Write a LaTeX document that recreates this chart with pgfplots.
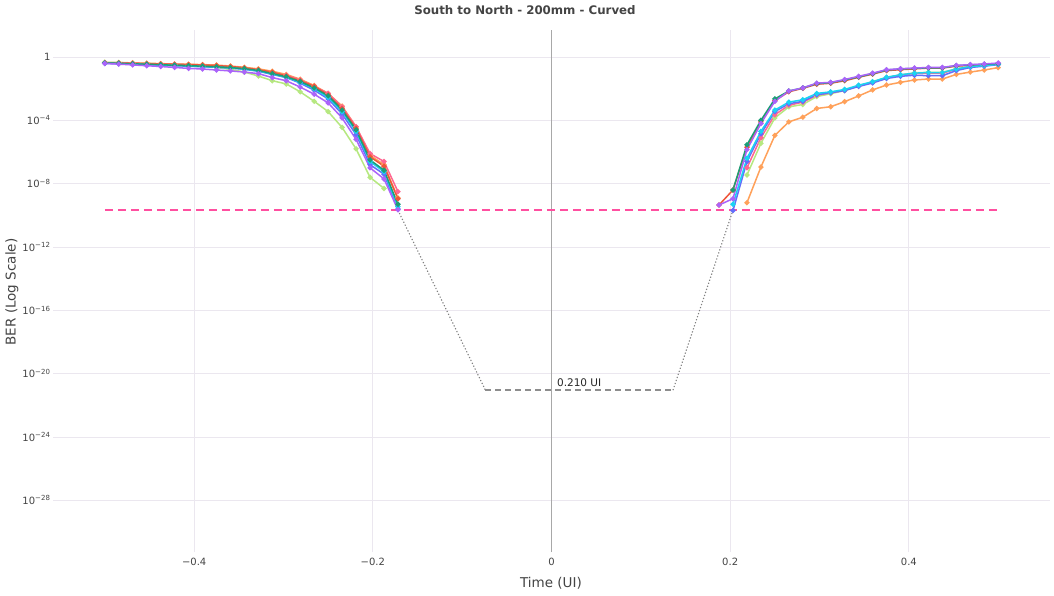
\documentclass[border=0pt]{standalone}
\usepackage{fontspec}
\setmainfont{DejaVu Sans}
\usepackage{pgfplots}
\pgfplotsset{compat=1.18}
\definecolor{cBlue}{HTML}{636EFA}
\definecolor{cRed}{HTML}{EF553B}
\definecolor{cTeal}{HTML}{1B9E77}
\definecolor{cPurple}{HTML}{AB63FA}
\definecolor{cOrange}{HTML}{FFA15A}
\definecolor{cCyan}{HTML}{19D3F3}
\definecolor{cPink}{HTML}{FF6692}
\definecolor{cLGreen}{HTML}{B6E880}
\definecolor{cThresh}{HTML}{FF4FA0}
\definecolor{gridc}{HTML}{EBE7EF}
\definecolor{cZero}{HTML}{A8A8A8}
\definecolor{c444}{HTML}{444444}
\definecolor{cGrey}{HTML}{808080}
\pgfplotsset{
  ser/.style={color=#1, line width=1.5pt, mark=*, mark size=1.8pt, mark options={solid, fill=#1}},
}
\begin{document}
\begin{tikzpicture}
\path[use as bounding box] (0,0) rectangle (1054pt,595pt);
\fill[white] (0,0) rectangle (1054pt,595pt);
\begin{axis}[
  at={(53pt,43pt)}, anchor=south west, scale only axis,
  width=997pt, height=522pt,
  xmin=-0.558, xmax=0.558,
  ymode=log, ymin=5.4e-32, ymax=50.8,
  axis line style={draw=none},
  major tick length=0pt, minor tick length=0pt,
  xtick={-0.4,-0.2,0.2,0.4},
  xticklabels={−0.4,−0.2,0.2,0.4},
  extra x ticks={0}, extra x tick labels={0},
  extra x tick style={major grid style={color=cZero, line width=0.9pt}},
  ytick={1,1e-4,1e-8,1e-12,1e-16,1e-20,1e-24,1e-28},
  yticklabels={1,10\textsuperscript{−4},10\textsuperscript{−8},10\textsuperscript{−12},10\textsuperscript{−16},10\textsuperscript{−20},10\textsuperscript{−24},10\textsuperscript{−28}},
  grid=major,
  major grid style={color=gridc, line width=0.9pt},
  tick label style={font=\fontsize{10}{12}\selectfont, text=c444},
  yticklabel style={xshift=1pt},
  xticklabel style={yshift=-3pt},
]
% light green
\addplot[ser=cLGreen] coordinates {(-0.5,0.468)(-0.4844,0.447)(-0.4688,0.427)(-0.4531,0.398)(-0.4375,0.363)(-0.4219,0.331)(-0.4063,0.302)(-0.3906,0.263)(-0.375,0.219)(-0.3594,0.166)(-0.3438,0.112)(-0.3281,0.0631)(-0.3125,0.0316)(-0.2969,0.02)(-0.2813,6.31e-3)(-0.2656,1.58e-3)(-0.25,3.55e-4)(-0.2344,3.55e-5)(-0.2188,1.58e-6)(-0.2031,2.51e-8)(-0.1875,5.01e-9)};
\addplot[ser=cLGreen] coordinates {(0.2188,3.55e-8)(0.2344,3.55e-6)(0.25,1.41e-4)(0.2656,7.08e-4)(0.2813,1e-3)(0.2969,3.16e-3)(0.3125,4.79e-3)(0.3281,7.59e-3)(0.3438,0.0151)(0.3594,0.0275)(0.375,0.0501)(0.3906,0.0724)(0.4063,0.1)(0.4219,0.107)(0.4375,0.107)(0.4531,0.182)(0.4688,0.251)(0.4844,0.302)(0.5,0.380)};
% orange
\addplot[ser=cOrange] coordinates {(-0.5,0.447)(-0.4844,0.437)(-0.4688,0.427)(-0.4531,0.407)(-0.4375,0.380)(-0.4219,0.363)(-0.4063,0.347)(-0.3906,0.331)(-0.375,0.309)(-0.3594,0.269)(-0.3438,0.224)(-0.3281,0.178)(-0.3125,0.126)(-0.2969,0.0794)(-0.2813,0.0398)(-0.2656,0.0158)(-0.25,5.01e-3)(-0.2344,7.94e-4)(-0.2188,3.98e-5)(-0.2031,6.31e-7)(-0.1875,1.58e-7)(-0.1719,1.26e-9)};
\addplot[ser=cOrange] coordinates {(0.2188,6.31e-10)(0.2344,1.12e-7)(0.25,1.12e-5)(0.2656,7.94e-5)(0.2813,1.58e-4)(0.2969,5.62e-4)(0.3125,7.24e-4)(0.3281,1.51e-3)(0.3438,3.47e-3)(0.3594,8.32e-3)(0.375,0.0170)(0.3906,0.0251)(0.4063,0.0355)(0.4219,0.0407)(0.4375,0.0407)(0.4531,0.0794)(0.4688,0.112)(0.4844,0.151)(0.5,0.214)};
% pink
\addplot[ser=cPink] coordinates {(-0.5,0.437)(-0.4844,0.417)(-0.4688,0.398)(-0.4531,0.380)(-0.4375,0.355)(-0.4219,0.339)(-0.4063,0.316)(-0.3906,0.302)(-0.375,0.275)(-0.3594,0.240)(-0.3438,0.200)(-0.3281,0.151)(-0.3125,0.1)(-0.2969,0.0708)(-0.2813,0.0355)(-0.2656,0.0141)(-0.25,5.01e-3)(-0.2344,7.08e-4)(-0.2188,3.98e-5)(-0.2031,7.94e-7)(-0.1875,2.51e-7)(-0.1719,3.16e-9)};
\addplot[ser=cPink] coordinates {(0.2188,1e-7)(0.2344,7.94e-6)(0.25,2.24e-4)(0.2656,8.91e-4)(0.2813,1.41e-3)(0.2969,3.80e-3)(0.3125,5.50e-3)(0.3281,7.94e-3)(0.3438,0.0151)(0.3594,0.0251)(0.375,0.0501)(0.3906,0.0724)(0.4063,0.0912)(0.4219,0.0955)(0.4375,0.0955)(0.4531,0.166)(0.4688,0.240)(0.4844,0.282)(0.5,0.339)};
% red
\addplot[ser=cRed] coordinates {(-0.5,0.427)(-0.4844,0.417)(-0.4688,0.398)(-0.4531,0.380)(-0.4375,0.363)(-0.4219,0.347)(-0.4063,0.331)(-0.3906,0.316)(-0.375,0.288)(-0.3594,0.251)(-0.3438,0.209)(-0.3281,0.158)(-0.3125,0.112)(-0.2969,0.0631)(-0.2813,0.0316)(-0.2656,0.0141)(-0.25,3.98e-3)(-0.2344,5.62e-4)(-0.2188,3.16e-5)(-0.2031,5.01e-7)(-0.1875,1.26e-7)(-0.1719,1.12e-9)};
\addplot[ser=cRed] coordinates {(0.1875,4.47e-10)(0.2031,3.98e-9)(0.2188,2.0e-6)(0.2344,7.94e-5)(0.25,1.78e-3)(0.2656,6.31e-3)(0.2813,0.0105)(0.2969,0.0191)(0.3125,0.0219)(0.3281,0.0316)(0.3438,0.0525)(0.3594,0.0832)(0.375,0.138)(0.3906,0.158)(0.4063,0.178)(0.4219,0.2)(0.4375,0.2)(0.4531,0.263)(0.4688,0.302)(0.4844,0.331)(0.5,0.372)};
% blue
\addplot[ser=cBlue] coordinates {(-0.5,0.398)(-0.4844,0.380)(-0.4688,0.355)(-0.4531,0.331)(-0.4375,0.302)(-0.4219,0.282)(-0.4063,0.263)(-0.3906,0.240)(-0.375,0.224)(-0.3594,0.200)(-0.3438,0.166)(-0.3281,0.126)(-0.3125,0.0794)(-0.2969,0.0501)(-0.2813,0.0224)(-0.2656,7.94e-3)(-0.25,2.24e-3)(-0.2344,2.51e-4)(-0.2188,1.26e-5)(-0.2031,1.58e-7)(-0.1875,3.98e-8)(-0.1719,2.51e-10)};
\addplot[ser=cBlue] coordinates {(0.2031,2.0e-10)(0.2188,2.51e-7)(0.2344,1.41e-5)(0.25,3.55e-4)(0.2656,1.12e-3)(0.2813,1.58e-3)(0.2969,4.17e-3)(0.3125,5.50e-3)(0.3281,7.59e-3)(0.3438,0.0138)(0.3594,0.0229)(0.375,0.0437)(0.3906,0.0603)(0.4063,0.0708)(0.4219,0.0661)(0.4375,0.0661)(0.4531,0.138)(0.4688,0.219)(0.4844,0.263)(0.5,0.331)};
% cyan
\addplot[ser=cCyan] coordinates {(-0.5,0.407)(-0.4844,0.389)(-0.4688,0.363)(-0.4531,0.339)(-0.4375,0.316)(-0.4219,0.295)(-0.4063,0.275)(-0.3906,0.251)(-0.375,0.229)(-0.3594,0.204)(-0.3438,0.174)(-0.3281,0.132)(-0.3125,0.0832)(-0.2969,0.0525)(-0.2813,0.0251)(-0.2656,0.01)(-0.25,2.82e-3)(-0.2344,3.55e-4)(-0.2188,2.0e-5)(-0.2031,2.51e-7)(-0.1875,5.62e-8)(-0.1719,3.55e-10)};
\addplot[ser=cCyan] coordinates {(0.2031,5.01e-10)(0.2188,3.98e-7)(0.2344,2.0e-5)(0.25,4.47e-4)(0.2656,1.41e-3)(0.2813,2.0e-3)(0.2969,5.01e-3)(0.3125,6.31e-3)(0.3281,8.91e-3)(0.3438,0.0166)(0.3594,0.0275)(0.375,0.0525)(0.3906,0.0759)(0.4063,0.0955)(0.4219,0.105)(0.4375,0.105)(0.4531,0.174)(0.4688,0.251)(0.4844,0.288)(0.5,0.347)};
% teal
\addplot[ser=cTeal] coordinates {(-0.5,0.417)(-0.4844,0.398)(-0.4688,0.372)(-0.4531,0.347)(-0.4375,0.324)(-0.4219,0.302)(-0.4063,0.282)(-0.3906,0.263)(-0.375,0.240)(-0.3594,0.214)(-0.3438,0.182)(-0.3281,0.141)(-0.3125,0.0891)(-0.2969,0.0562)(-0.2813,0.0282)(-0.2656,0.0112)(-0.25,3.55e-3)(-0.2344,4.47e-4)(-0.2188,2.51e-5)(-0.2031,3.16e-7)(-0.1875,7.08e-8)(-0.1719,5.01e-10)};
\addplot[ser=cTeal] coordinates {(0.2031,3.98e-9)(0.2188,2.82e-6)(0.2344,1e-4)(0.25,2.24e-3)(0.2656,7.08e-3)(0.2813,0.0112)(0.2969,0.0209)(0.3125,0.0240)(0.3281,0.0355)(0.3438,0.0562)(0.3594,0.0891)(0.375,0.151)(0.3906,0.174)(0.4063,0.191)(0.4219,0.209)(0.4375,0.209)(0.4531,0.282)(0.4688,0.316)(0.4844,0.347)(0.5,0.380)};
% purple
\addplot[ser=cPurple] coordinates {(-0.5,0.389)(-0.4844,0.355)(-0.4688,0.316)(-0.4531,0.282)(-0.4375,0.251)(-0.4219,0.219)(-0.4063,0.191)(-0.3906,0.174)(-0.375,0.151)(-0.3594,0.132)(-0.3438,0.112)(-0.3281,0.0891)(-0.3125,0.0501)(-0.2969,0.0316)(-0.2813,0.0126)(-0.2656,4.47e-3)(-0.25,1.26e-3)(-0.2344,1.41e-4)(-0.2188,6.31e-6)(-0.2031,1e-7)(-0.1875,2.0e-8)(-0.1719,2.24e-10)};
\addplot[ser=cPurple] coordinates {(0.1875,4.47e-10)(0.2031,1.12e-9)(0.2188,1.41e-6)(0.2344,6.31e-5)(0.25,1.58e-3)(0.2656,7.08e-3)(0.2813,0.0112)(0.2969,0.0224)(0.3125,0.0251)(0.3281,0.0380)(0.3438,0.0603)(0.3594,0.0955)(0.375,0.158)(0.3906,0.182)(0.4063,0.2)(0.4219,0.219)(0.4375,0.219)(0.4531,0.295)(0.4688,0.331)(0.4844,0.363)(0.5,0.417)};
% threshold
\addplot[color=cThresh, line width=1.6pt, dash pattern=on 8pt off 5pt] coordinates {(-0.5,2.1e-10)(0.5,2.1e-10)};
% eye opening
\addplot[color=cGrey, line width=1.1pt, dash pattern=on 1.2pt off 2pt] coordinates {(-0.1719,2.1e-10)(-0.074,9.1e-22)};
\addplot[color=cGrey, line width=1.1pt, dash pattern=on 1.2pt off 2pt] coordinates {(0.136,9.1e-22)(0.2031,2.1e-10)};
\addplot[color=cGrey!90, line width=1.6pt, dash pattern=on 6pt off 4pt] coordinates {(-0.074,9.1e-22)(0.136,9.1e-22)};
\node[font=\fontsize{10.5}{12}\selectfont, text=black!85, anchor=base, yshift=3.5pt] at (axis cs:0.031,9.1e-22) {0.210 UI};
\end{axis}
\node[font=\bfseries\fontsize{11.8}{14}\selectfont, text=c444] at (525pt,585pt) {South to North - 200mm - Curved};
\node[font=\fontsize{13.5}{16}\selectfont, text=c444] at (551pt,12pt) {Time (UI)};
\node[font=\fontsize{13.5}{16}\selectfont, text=c444, rotate=90] at (12pt,303pt) {BER (Log Scale)};
\end{tikzpicture}
\end{document}
